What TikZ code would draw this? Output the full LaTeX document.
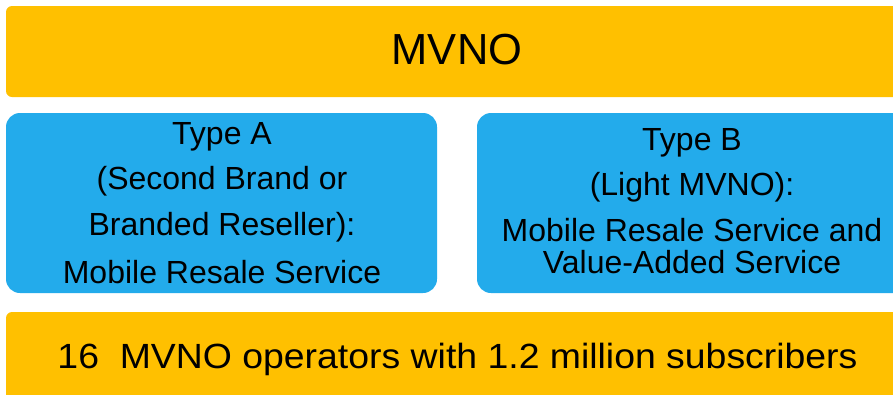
\documentclass[tikz,border=0pt]{standalone}
\usepackage{fontspec}
\usepackage{graphicx}
\setmainfont{Liberation Sans}
\definecolor{mvnoorange}{RGB}{255,192,0}
\definecolor{mvnoblue}{RGB}{35,171,235}
\begin{document}
\begin{tikzpicture}[x=1pt,y=-1pt,
  orangebox/.style={fill=mvnoorange,draw=none,rounded corners=6pt,inner sep=0pt},
  bluebox/.style={fill=mvnoblue,draw=none,rounded corners=14pt,inner sep=0pt},
  bigtxt/.style={anchor=base,inner sep=0pt,font=\fontsize{43.5}{43.5}\selectfont},
  midtxt/.style={anchor=base,inner sep=0pt,font=\fontsize{32}{32}\selectfont},
  bottxt/.style={anchor=base,inner sep=0pt,font=\fontsize{35}{35}\selectfont}]
\useasboundingbox (0,0) rectangle (893,394);
\begin{scope}
\clip (0,0) rectangle (893,394);
\node[orangebox,minimum width=902pt,minimum height=91pt] (top) at (457,51.5) {};
\node[bluebox,minimum width=431pt,minimum height=180pt] (typea) at (221.5,203) {};
\node[bluebox,minimum width=431pt,minimum height=180pt] (typeb) at (692.5,203) {};
\node[orangebox,minimum width=902pt,minimum height=100pt] (bottom) at (457,362) {};
\end{scope}
\node[bigtxt] (mvno) at (457,64) {MVNO};
\node[midtxt] (a1) at (222,144) {Type A};
\node[midtxt] (a2) at (222,189) {(Second Brand or};
\node[midtxt] (a3) at (222,235) {Branded Reseller):};
\node[midtxt] (a4) at (222,283) {Mobile Resale Service};
\node[midtxt] (b1) at (692,150) {Type B};
\node[midtxt] (b2) at (692,195) {(Light MVNO):};
\node[midtxt] (b3) at (692,241.5) {Mobile Resale Service and};
\node[midtxt] (b4) at (692,273) {Value-Added Service};
\node[bottxt] (stats) at (457.5,368) {\resizebox{800pt}{\height}{16\ \ MVNO operators with 1.2 million subscribers}};
\end{tikzpicture}
\end{document}
